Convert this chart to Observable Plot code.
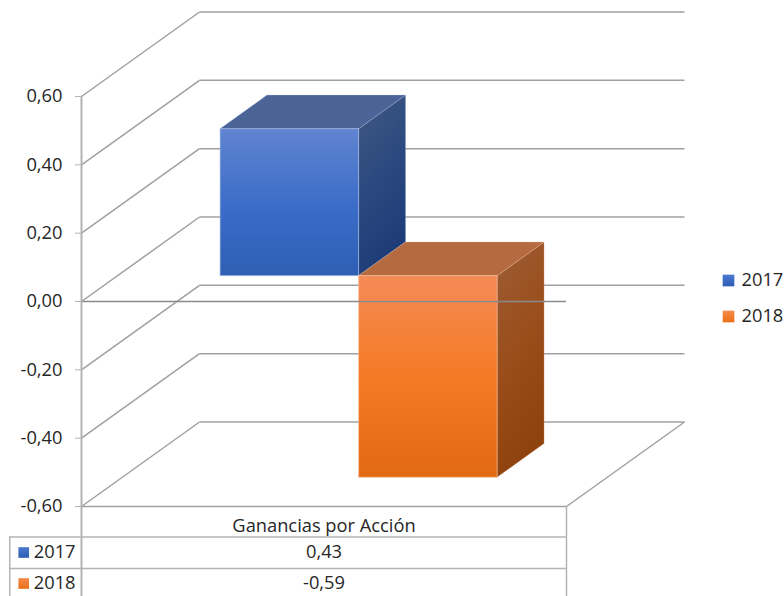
<!DOCTYPE html>
<html>
<head>
<meta charset="utf-8">
<script src="https://cdn.jsdelivr.net/npm/d3@7"></script>
<script src="https://cdn.jsdelivr.net/npm/@observablehq/plot@0.6"></script>
<style>
  html, body { margin: 0; padding: 0; background: #fff; overflow: hidden; }
  svg { display: block; }
</style>
</head>
<body>
<div id="chart"></div>
<script>
const category = "Ganancias por Acción";
const seriesNames = ["2017", "2018"];
const seriesValues = [0.43, -0.59];
const tickValues = [-0.6, -0.4, -0.2, 0, 0.2, 0.4, 0.6];

const comma = (v, digits = 2) => v.toFixed(digits).replace(".", ",");

// Oblique projection: how far one unit of depth shifts x and y, in scale units.
const depthX = 0.2433;
const depthY = 0.2473;
const barDepth = [0.3, 0.698];
const gapWidth = 0.2138;
const barWidth = 0.2856;

const valuePerPixel = 1.2 / 410;
const tableBottom = -0.6 - 90 * valuePerPixel;
const tableTop = -0.6 - 30.5 * valuePerPixel;
const rowLine = -0.6 - 62 * valuePerPixel;
const keyLeft = -0.148;

const gridColor = "#a0a0a0";
const tableColor = "#b4b4b4";
const textColor = "#262626";
const labelSize = 18.3;

const palette = [
  {front: "front0", side: "side0", key: "key0", top: "#4a6498", edge: "#a9bde6", rowDy: 46, legendDy: -21},
  {front: "front1", side: "side1", key: "key1", top: "#b56a3f", edge: "#f3c3a4", rowDy: 77, legendDy: 15}
];

const at = (x, value, depth) => ({x: x + depth * depthX, y: value + depth * depthY});

// One box per series: front, top and right faces of a bar standing on the zero plane.
const bars = seriesNames.map((name, i) => {
  const left = gapWidth + i * barWidth;
  const right = left + barWidth;
  const value = seriesValues[i];
  const high = Math.max(0, value);
  const low = Math.min(0, value);
  const [near, far] = barDepth;
  const pair = (a, b) => ({x1: a.x, y1: a.y, x2: b.x, y2: b.y});
  return {
    name,
    value,
    ...palette[i],
    frontRect: {x1: at(left, 0, near).x, x2: at(right, 0, near).x, y1: at(0, low, near).y, y2: at(0, high, near).y},
    topFace: [pair(at(left, high, near), at(left, high, far)), pair(at(right, high, near), at(right, high, far))],
    sideFace: [pair(at(right, high, near), at(right, low, near)), pair(at(right, high, far), at(right, low, far))]
  };
});

const faceMarks = (b) => [
  Plot.area(b.sideFace, {x1: "x1", y1: "y1", x2: "x2", y2: "y2", fill: `url(#${b.side})`, stroke: b.edge, strokeOpacity: 0.3, strokeWidth: 1}),
  Plot.area(b.topFace, {x1: "x1", y1: "y1", x2: "x2", y2: "y2", fill: b.top, stroke: b.edge, strokeOpacity: 0.3, strokeWidth: 1}),
  Plot.rect([b.frontRect], {x1: "x1", x2: "x2", y1: "y1", y2: "y2", fill: `url(#${b.front})`, stroke: b.edge, strokeOpacity: 0.6, strokeWidth: 1})
];

// Table row and legend entry of one series
const keyMarks = (b) => [
  Plot.text([b], {x: 0.5, y: -0.6, dy: b.rowDy, text: (d) => comma(d.value), fontSize: labelSize, fill: textColor}),
  Plot.dot([b], {x: keyLeft, y: -0.6, dx: 14, dy: b.rowDy, symbol: "square", r: 6, fill: `url(#${b.key})`}),
  Plot.text([b], {x: keyLeft, y: -0.6, dx: 24, dy: b.rowDy, text: "name", textAnchor: "start", fontSize: labelSize, fill: textColor}),
  Plot.dot([b], {x: 1, y: 0, dx: 162, dy: b.legendDy, symbol: "square", r: 6.6, fill: `url(#${b.key})`}),
  Plot.text([b], {x: 1, y: 0, dx: 175, dy: b.legendDy, text: "name", textAnchor: "start", fontSize: labelSize, fill: textColor})
];

const svgNS = "http://www.w3.org/2000/svg";
function gradient(id, stops, x2, y2) {
  const g = document.createElementNS(svgNS, "linearGradient");
  g.setAttribute("id", id);
  g.setAttribute("x1", 0); g.setAttribute("y1", 0);
  g.setAttribute("x2", x2); g.setAttribute("y2", y2);
  for (const [offset, color] of stops) {
    const s = document.createElementNS(svgNS, "stop");
    s.setAttribute("offset", offset);
    s.setAttribute("stop-color", color);
    g.appendChild(s);
  }
  return g;
}
const gradientDefs = () => {
  const defs = document.createElementNS(svgNS, "defs");
  defs.append(
    gradient("front0", [[0, "#6084d0"], [0.55, "#3a6cc8"], [1, "#2e5fb4"]], 0, 1),
    gradient("side0", [[0, "#40597f"], [0.5, "#2d4a80"], [1, "#1d3c77"]], 0.3, 1),
    gradient("front1", [[0, "#f48b56"], [0.5, "#f57a25"], [1, "#e26a12"]], 0, 1),
    gradient("side1", [[0, "#9d5c36"], [0.5, "#9a4f1c"], [1, "#8e420d"]], 0.3, 1),
    gradient("key0", [[0, "#4a78cf"], [1, "#2e5fb4"]], 0, 1),
    gradient("key1", [[0, "#f58a4b"], [1, "#ea7016"]], 0, 1)
  );
  return defs;
};

const chart = Plot.plot({
  width: 784,
  height: 596,
  marginLeft: 81,
  marginRight: 218,
  marginTop: 96,
  marginBottom: 90,
  style: {fontFamily: "'Open Sans', sans-serif", fontSize: `${labelSize}px`, color: textColor, background: "#fff", overflow: "visible"},
  x: {domain: [0, 1], axis: null},
  y: {domain: [-0.6, 0.6], axis: null},
  marks: [
    gradientDefs,

    // Side wall and back wall gridlines
    Plot.link(tickValues, {x1: 0, y1: (d) => d, x2: depthX, y2: (d) => d + depthY, stroke: gridColor, strokeWidth: 1.5}),
    Plot.link(tickValues, {x1: depthX, y1: (d) => d + depthY, x2: 1 + depthX, y2: (d) => d + depthY, stroke: gridColor, strokeWidth: 1.5}),

    // Floor edges
    Plot.ruleY([-0.6], {x1: 0, x2: 1, stroke: gridColor, strokeWidth: 1.5}),
    Plot.link([-0.6], {x1: 1, y1: (d) => d, x2: 1 + depthX, y2: (d) => d + depthY, stroke: gridColor, strokeWidth: 1.5}),

    // Bars
    ...bars.flatMap(faceMarks),

    // Zero line passes in front of the bars
    Plot.ruleY([0], {x1: 0, x2: 1, stroke: "#8a8a8a", strokeWidth: 1.5}),

    // Value axis
    Plot.ruleX([0], {y1: 0.6, y2: tableBottom, stroke: tableColor, strokeWidth: 2}),
    Plot.axisY({
      anchor: "left",
      ticks: tickValues,
      tickFormat: (d) => comma(d),
      tickSize: 6,
      tickPadding: 13,
      stroke: tableColor,
      fill: textColor,
      fontSize: labelSize,
      label: null
    }),

    // Data table under the plot
    Plot.ruleX([1], {y1: -0.6, y2: tableBottom, stroke: tableColor, strokeWidth: 1.5}),
    Plot.ruleX([keyLeft], {y1: tableTop, y2: tableBottom, stroke: tableColor, strokeWidth: 1.5}),
    Plot.ruleY([tableTop], {x1: keyLeft, x2: 1, stroke: tableColor, strokeWidth: 1.5}),
    Plot.ruleY([rowLine], {x1: keyLeft, x2: 1, stroke: tableColor, strokeWidth: 1.5}),
    Plot.text([category], {x: 0.5, y: -0.6, dy: 20, text: (d) => d, fontSize: labelSize, fill: textColor}),

    // Table rows and legend entries
    ...bars.flatMap(keyMarks)
  ]
});

document.getElementById("chart").appendChild(chart);
</script>
</body>
</html>
